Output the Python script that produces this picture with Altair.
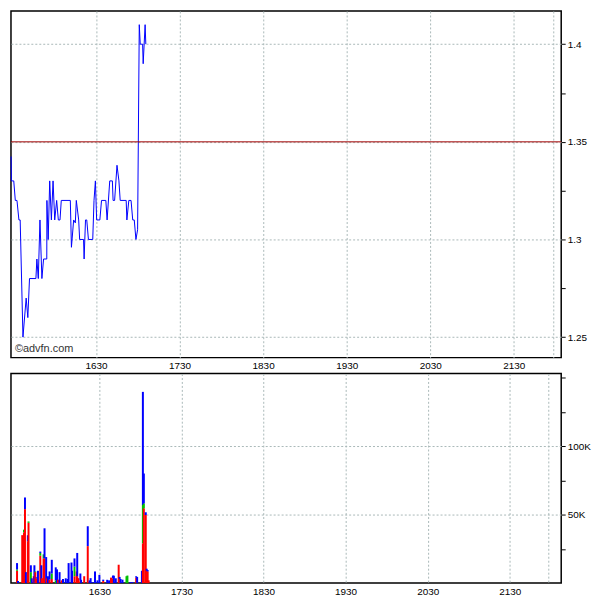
import altair as alt
import pandas as pd

# ---- data (times are minutes relative to 16:30) ----
price_min = [-60.9, -60.7, -59.0, -57.9, -56.7, -55.3, -54.4, -52.4, -50.1, -48.9,
             -47.7, -43.1, -42.4, -41.4, -40.2, -38.8, -37.6, -35.3, -35.2, -34.3,
             -33.2, -32.0, -30.8, -29.6, -28.2, -27.0, -25.8, -24.9, -18.4, -17.6,
             -16.0, -14.8, -14.1, -12.4, -11.7, -8.9, -8.5, -7.5, -6.6, -5.4,
             -2.3, -1.4, -0.4, 0.5, 2.8, 4.0, 7.1, 8.0, 9.9, 11.8,
             12.3, 13.4, 15.1, 16.5, 17.4, 21.7, 22.2, 23.6, 25.2, 26.4,
             27.5, 28.7, 29.9, 31.1, 31.8, 33.5, 33.9, 35.3, 35.8]
price_val = [1.3425, 1.33, 1.33, 1.32, 1.32, 1.31, 1.31, 1.25, 1.27, 1.26,
             1.28, 1.28, 1.29, 1.28, 1.31, 1.28, 1.29, 1.29, 1.32, 1.30,
             1.33, 1.31, 1.33, 1.31, 1.32, 1.31, 1.31, 1.32, 1.32, 1.296,
             1.31, 1.3085, 1.32, 1.31, 1.30, 1.30, 1.29, 1.31, 1.31, 1.30,
             1.30, 1.32, 1.33, 1.31, 1.31, 1.32, 1.32, 1.31, 1.33, 1.33,
             1.32, 1.32, 1.338, 1.33, 1.32, 1.32, 1.31, 1.32, 1.32, 1.31,
             1.31, 1.30, 1.305, 1.41, 1.40, 1.40, 1.39, 1.41, 1.40]
prev_close = 1.35

vol_min = [-60.2, -59.5, -56.4, -55.1, -54.4, -53.7, -52.3, -51.8, -50.1, -49.4,
           -48.0, -47.5, -46.8, -45.9, -44.9, -43.2, -42.4, -42.0, -40.8, -40.1,
           -38.9, -38.4, -37.6, -36.4, -34.8, -31.9, -31.0, -30.2, -29.1, -27.6,
           -26.6, -24.6, -23.2, -22.5, -20.4, -20.0, -18.2, -16.6, -16.2, -15.4,
           -13.9, -13.4, -11.1, -8.5, -7.1, -6.4, -5.0, -3.2, -1.4, 0.0,
           1.4, 2.8, 5.7, 7.1, 8.5, 9.9, 10.6, 12.0, 14.1, 14.8,
           15.5, 16.9, 19.8, 20.5, 22.6, 24.1, 26.9, 27.6, 31.1, 31.8,
           32.5, 33.9, 34.6, 35.3, 36.0]
vol_red = [9, 0, 35, 37, 54, 0, 30.5, 44, 0, 0,
           5, 0, 8, 3.5, 0, 20, 0, 3.5, 18, 18,
           0, 3.5, 0, 2.5, 3, 0, 0, 2.5, 0, 2,
           0, 0, 0, 0, 0, 0, 5, 8.5, 5, 3.6,
           2, 0, 5, 27, 0, 0, 0, 0, 0, 0,
           0, 1.5, 0, 0, 4, 3.5, 0, 0, 13.4, 3,
           0, 0, 0, 0, 0, 0, 4, 0, 0, 29,
           54.6, 49.7, 9, 8.5, 2]
vol_green = [1, 0, 0, 2, 0, 0, 0, 1, 8, 0,
             0, 0, 0.5, 0, 0, 2, 0, 0, 3, 0,
             0, 0, 0, 0, 4, 2, 0, 0, 0, 0,
             0, 0, 0, 0, 0, 0, 7, 0, 0, 0,
             0, 0, 0, 0, 0, 0, 0, 0, 0, 0,
             0, 0, 0, 0, 0, 0, 0, 0, 0, 0,
             0, 0, 5, 5.5, 0, 0, 0, 0, 0, 28,
             3.6, 0, 0, 0, 0]
vol_blue = [4.6, 1.5, 0, 0, 8.5, 8, 4.4, 0, 5, 3.5,
            0, 13, 0, 0.7, 9, 1, 13, 0, 0, 22,
            19, 0, 5, 6, 10, 9.5, 10, 0, 8, 0,
            3, 3.5, 3, 14.6, 15, 9, 6, 0, 17, 0,
            5, 2.4, 0, 14.5, 2, 3.6, 0.7, 8.5, 2, 6,
            0, 1, 2.4, 2, 0, 2, 5.4, 3.5, 0, 1.5,
            3, 2.5, 0, 0, 0.7, 0.7, 1, 4.5, 9, 82.6,
            21.8, 2, 1.5, 1, 0]

# ---- tables ----
price_df = pd.DataFrame({"m": price_min, "p": price_val})
rows = []
for m, r, g, b in zip(vol_min, vol_red, vol_green, vol_blue):
    for kind, v, o in (("red", r, 0), ("green", g, 1), ("blue", b, 2)):
        if v > 0:
            rows.append({"m": m, "kind": kind, "v": v * 1000, "o": o})
vol_df = pd.DataFrame(rows)

W = 554
X_DOMAIN = [-61, 334]
grid_color = "#a9b8b8"

x_axis = alt.Axis(
    values=[0, 60, 120, 180, 240, 300, 328],
    labelExpr="datum.value > 320 ? '' : toString(1630 + datum.value / 60 * 100)",
    grid=True, gridColor=grid_color, gridDash=[2, 2], gridWidth=1,
    ticks=False, domain=False, title=None, labelPadding=3,
)
x_enc = alt.X("m:Q", scale=alt.Scale(domain=X_DOMAIN, nice=False, zero=False), axis=x_axis)

major_p = "abs(datum.value * 20 - round(datum.value * 20)) < 0.001"
price_axis = alt.Axis(
    orient="right",
    values=[1.25, 1.275, 1.3, 1.325, 1.35, 1.375, 1.4],
    labelExpr=f"{major_p} ? format(datum.value, '~g') : ''",
    grid=True, gridColor=grid_color, gridDash=[2, 2], gridWidth=1,
    gridOpacity={"condition": {"test": major_p, "value": 1}, "value": 0},
    tickSize=4, tickColor="black", domain=False, title=None, labelPadding=2,
)

price_line = alt.Chart(price_df).mark_line(color="#0000ff", strokeWidth=1).encode(
    x=x_enc,
    y=alt.Y("p:Q", scale=alt.Scale(domain=[1.2395, 1.417], nice=False, zero=False), axis=price_axis),
)
close_rule = alt.Chart(pd.DataFrame({"c": [prev_close]})).mark_rule(color="#a00000", strokeWidth=1).encode(
    y="c:Q"
)
credit = alt.Chart(pd.DataFrame({"t": ["©advfn.com"]})).mark_text(
    align="left", baseline="alphabetic", font="Liberation Sans", fontSize=11, color="#333333"
).encode(text="t:N", x=alt.value(4), y=alt.value(343))

top = alt.layer(price_line, close_rule, credit).properties(width=W, height=349)

major_v = "datum.value % 50000 == 0 && datum.value > 0 && datum.value < 150000"
vol_axis = alt.Axis(
    orient="right",
    values=[25000, 50000, 75000, 100000, 125000, 150000],
    labelExpr=f"{major_v} ? (datum.value / 1000) + 'K' : ''",
    grid=True, gridColor=grid_color, gridDash=[2, 2], gridWidth=1,
    gridOpacity={"condition": {"test": major_v, "value": 1}, "value": 0},
    tickSize=4, tickColor="black", domain=False, title=None, labelPadding=2,
)
bottom = alt.Chart(vol_df).mark_bar(size=2).encode(
    x=x_enc,
    y=alt.Y("sum(v):Q", scale=alt.Scale(domain=[0, 153000], nice=False), axis=vol_axis, stack="zero"),
    color=alt.Color("kind:N", scale=alt.Scale(domain=["red", "green", "blue"],
                                              range=["#ff0000", "#00c000", "#0000ff"]), legend=None),
    order=alt.Order("o:Q", sort="ascending"),
).properties(width=W, height=211)

chart = alt.vconcat(top, bottom, spacing=1).properties(padding=0, background="white").configure_view(
    stroke="black", strokeWidth=1.5
).configure_axis(
    labelFont="Liberation Sans", labelFontSize=10, labelColor="black"
)

chart.save("out.html", embed_options={"renderer": "svg", "actions": False})
